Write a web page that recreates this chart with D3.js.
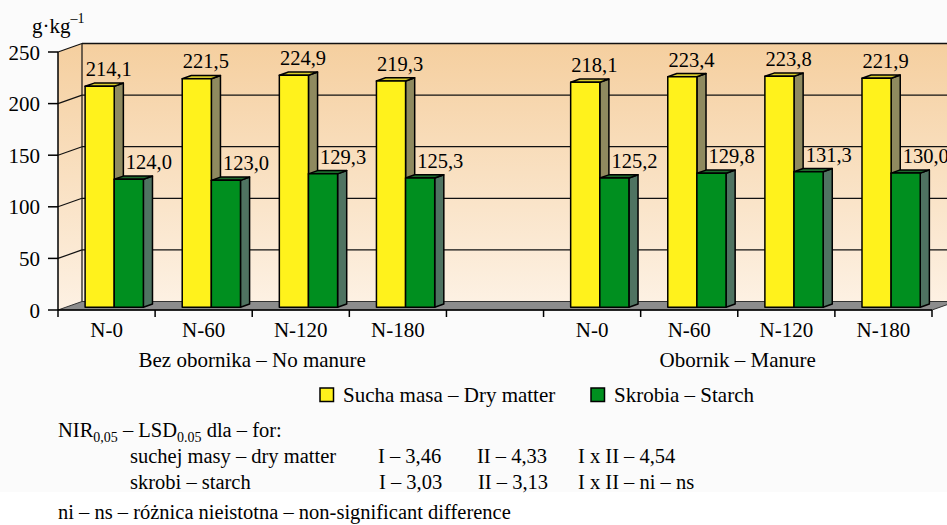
<!DOCTYPE html>
<html>
<head>
<meta charset="utf-8">
<script src="https://cdn.jsdelivr.net/npm/d3@7"></script>
<style>
  html, body { margin: 0; padding: 0; background: #fff; }
  svg text { font-family: "Liberation Serif", "Times New Roman", serif; }
</style>
</head>
<body>
<svg id="chart" width="947" height="525"></svg>
<script>
// Chart data
const groups = ["Bez obornika – No manure", "Obornik – Manure"];
const doses = ["N-0", "N-60", "N-120", "N-180"];
const seriesNames = ["Sucha masa – Dry matter", "Skrobia – Starch"];
const dryMatter = [214.1, 221.5, 224.9, 219.3, 218.1, 223.4, 223.8, 221.9];
const starch = [124.0, 123.0, 129.3, 125.3, 125.2, 129.8, 131.3, 130.0];
const yTicks = [0, 50, 100, 150, 200, 250];

// footnote rows: [label, I, II, I x II]
const lsdRows = [
  ["suchej masy – dry matter", "I – 3,46", "II – 4,33", "I x II – 4,54"],
  ["skrobi – starch", "I – 3,03", "II – 3,13", "I x II – ni – ns"]
];

const svg = d3.select("svg#chart");
const width = +svg.attr("width");

// colours
const faceCol = ["#fff21c", "#008f1f"];
const sideCol = ["#8f8a5f", "#4f7361"];
const topCol = ["#d8cc2a", "#1d6a2c"];

// 3D depth offset of the chart box
const depthX = 24, depthY = -8.5;
// bars sit between these depth fractions
const zFront = 0.32, zBack = 0.7;

// categories: 4 doses, one empty slot, 4 doses
const cats = [];
groups.forEach(function(g, gi) {
  doses.forEach(function(d) { cats.push({ key: gi + d, label: d, group: gi }); });
  if (gi == 0) cats.push({ key: "gap", label: "", group: -1 });
});
const rows = [];
let k = 0;
cats.forEach(function(c) {
  if (c.key == "gap") return;
  rows.push({ key: c.key, values: [dryMatter[k], starch[k]] });
  k++;
});

const x = d3.scaleBand()
    .domain(cats.map(c => c.key))
    .range([58, 932]);

const xs = d3.scaleBand()
    .domain([0, 1])
    .range([0, x.bandwidth()])
    .paddingOuter(0.667);

const y = d3.scaleLinear()
    .domain([0, 250])
    .range([310, 52]);

const fmt = v => d3.format(".1f")(v).replace(".", ",");

// page background
svg.append("rect").attr("width", width).attr("height", 492).attr("fill", "#fbfbfb");

const defs = svg.append("defs");
const grad = defs.append("linearGradient").attr("id", "wall")
    .attr("x1", 0).attr("y1", 0).attr("x2", 0).attr("y2", 1);
grad.append("stop").attr("offset", "0%").attr("stop-color", "#f5cf9f");
grad.append("stop").attr("offset", "100%").attr("stop-color", "#fdf1e3");

const x0 = x.range()[0], x1 = x.range()[1];
const y0 = y(0), yTop = y(250);

// back wall
svg.append("rect")
    .attr("x", x0 + depthX).attr("y", yTop + depthY)
    .attr("width", x1 - x0).attr("height", y0 - yTop)
    .attr("fill", "url(#wall)");

// left wall
svg.append("polygon")
    .attr("points", [[x0, y0], [x0 + depthX, y0 + depthY], [x0 + depthX, yTop + depthY], [x0, yTop]].join(" "))
    .attr("fill", "url(#wall)");

// gridlines on the back and side walls
const grid = svg.append("g").attr("class", "grid");
yTicks.filter(t => t > 0).forEach(function(t) {
  grid.append("line")
      .attr("x1", x0 + depthX).attr("x2", width + 20)
      .attr("y1", y(t) + depthY).attr("y2", y(t) + depthY)
      .attr("stroke", "#111").attr("stroke-width", t == 250 ? 1.5 : 1.2);
  grid.append("line")
      .attr("x1", x0).attr("x2", x0 + depthX)
      .attr("y1", y(t)).attr("y2", y(t) + depthY)
      .attr("stroke", "#111").attr("stroke-width", 1.2);
});
grid.append("line")
    .attr("x1", x0 + depthX).attr("x2", x0 + depthX)
    .attr("y1", yTop + depthY).attr("y2", y0 + depthY)
    .attr("stroke", "#111").attr("stroke-width", 1.2);

// floor
svg.append("polygon")
    .attr("points", [[x0, y0], [x1, y0], [x1 + depthX, y0 + depthY], [x0 + depthX, y0 + depthY]].join(" "))
    .attr("fill", "#8c8c8c").attr("stroke", "#333").attr("stroke-width", 1);

// bars
const barsg = svg.append("g").attr("class", "bars");
rows.forEach(function(r) {
  r.values.forEach(function(v, si) {
    const bx = x(r.key) + xs(si), bw = xs.bandwidth();
    const fx = bx + depthX * zFront, fy = depthY * zFront;
    const bkx = bx + depthX * zBack, bky = depthY * zBack;
    const g = barsg.append("g")
        .attr("stroke", "#000").attr("stroke-width", 1.5).attr("stroke-linejoin", "round");
    // side
    g.append("polygon")
        .attr("points", [[fx + bw, y(v) + fy], [bkx + bw, y(v) + bky], [bkx + bw, y0 + bky], [fx + bw, y0 + fy]].join(" "))
        .attr("fill", sideCol[si]);
    // top
    g.append("polygon")
        .attr("points", [[fx, y(v) + fy], [fx + bw, y(v) + fy], [bkx + bw, y(v) + bky], [bkx, y(v) + bky]].join(" "))
        .attr("fill", topCol[si]);
    // front
    g.append("rect")
        .attr("x", fx).attr("y", y(v) + fy)
        .attr("width", bw).attr("height", y0 - y(v))
        .attr("fill", faceCol[si]);
  });
});

// value labels
const labg = svg.append("g").attr("font-size", "20.5px").attr("fill", "#000");
rows.forEach(function(r) {
  r.values.forEach(function(v, si) {
    const cx = x(r.key) + xs(si) + xs.bandwidth() / 2 + depthX * zBack + (si == 1 ? 11 : 0);
    labg.append("text")
        .attr("x", cx)
        .attr("y", y(v) + depthY * zBack - 7)
        .attr("text-anchor", "middle")
        .text(fmt(v));
  });
});

// y axis
const yaxis = svg.append("g").attr("class", "yaxis");
yaxis.append("line")
    .attr("x1", x0).attr("x2", x0).attr("y1", yTop).attr("y2", y0)
    .attr("stroke", "#000").attr("stroke-width", 1.5);
yaxis.selectAll("g.tick")
    .data(yTicks)
    .enter()
    .append("g").attr("class", "tick")
    .each(function(t) {
      const g = d3.select(this);
      g.append("line")
          .attr("x1", x0 - 10).attr("x2", x0)
          .attr("y1", y(t)).attr("y2", y(t))
          .attr("stroke", "#000").attr("stroke-width", 1.5);
      g.append("text")
          .attr("x", x0 - 18).attr("y", y(t))
          .attr("dy", "0.36em")
          .attr("text-anchor", "end")
          .attr("font-size", "21px")
          .text(t);
    });

// y axis unit
const unit = svg.append("text").attr("x", 32).attr("y", 33).attr("font-size", "21px");
unit.append("tspan").text("g·kg");
unit.append("tspan").attr("font-size", "14px").attr("dy", -10).text("–1");

// x axis
const xaxis = svg.append("g").attr("class", "xaxis");
xaxis.append("line")
    .attr("x1", x0).attr("x2", x1).attr("y1", y0).attr("y2", y0)
    .attr("stroke", "#000").attr("stroke-width", 1.5);
const tickPos = cats.map(c => x(c.key)).concat([x1]);
xaxis.selectAll("line.tick")
    .data(tickPos)
    .enter()
    .append("line").attr("class", "tick")
    .attr("x1", d => d).attr("x2", d => d)
    .attr("y1", y0).attr("y2", y0 + 7)
    .attr("stroke", "#000").attr("stroke-width", 1.5);
xaxis.selectAll("text.cat")
    .data(cats.filter(c => c.label != ""))
    .enter()
    .append("text").attr("class", "cat")
    .attr("x", d => x(d.key) + x.bandwidth() / 2)
    .attr("y", 337)
    .attr("text-anchor", "middle")
    .attr("font-size", "21px")
    .text(d => d.label);

// group labels
groups.forEach(function(gname, gi) {
  const keys = cats.filter(c => c.group == gi).map(c => c.key);
  const gx = (x(keys[0]) + x(keys[keys.length - 1]) + x.bandwidth()) / 2;
  svg.append("text")
      .attr("x", gx).attr("y", 367)
      .attr("text-anchor", "middle")
      .attr("font-size", "21px")
      .text(gname);
});

// legend
const legend = svg.append("g").attr("class", "legend");
const legendX = [320, 591];
seriesNames.forEach(function(name, si) {
  legend.append("rect")
      .attr("x", legendX[si]).attr("y", 388)
      .attr("width", 13.5).attr("height", 13.5)
      .attr("fill", faceCol[si]).attr("stroke", "#000").attr("stroke-width", 1.5);
  legend.append("text")
      .attr("x", legendX[si] + 23).attr("y", 402)
      .attr("font-size", "21px")
      .text(name);
});

// footnote
const note = svg.append("g").attr("class", "note").attr("font-size", "20.5px");
const lsd = note.append("text").attr("x", 58).attr("y", 437);
lsd.append("tspan").text("NIR");
lsd.append("tspan").attr("font-size", "14px").attr("dy", 5).text("0,05");
lsd.append("tspan").attr("dy", -5).text(" – LSD");
lsd.append("tspan").attr("font-size", "14px").attr("dy", 5).text("0.05");
lsd.append("tspan").attr("dy", -5).text(" dla – for:");

const colX = [130, 378, 477, 578];
lsdRows.forEach(function(row, ri) {
  row.forEach(function(cell, ci) {
    note.append("text")
        .attr("x", colX[ci] + (ri == 1 && ci > 0 && ci < 3 ? 1 : 0))
        .attr("y", 463 + ri * 26)
        .text(cell);
  });
});
note.append("text").attr("x", 58).attr("y", 519)
    .text("ni – ns – różnica nieistotna – non-significant difference");
</script>
</body>
</html>
